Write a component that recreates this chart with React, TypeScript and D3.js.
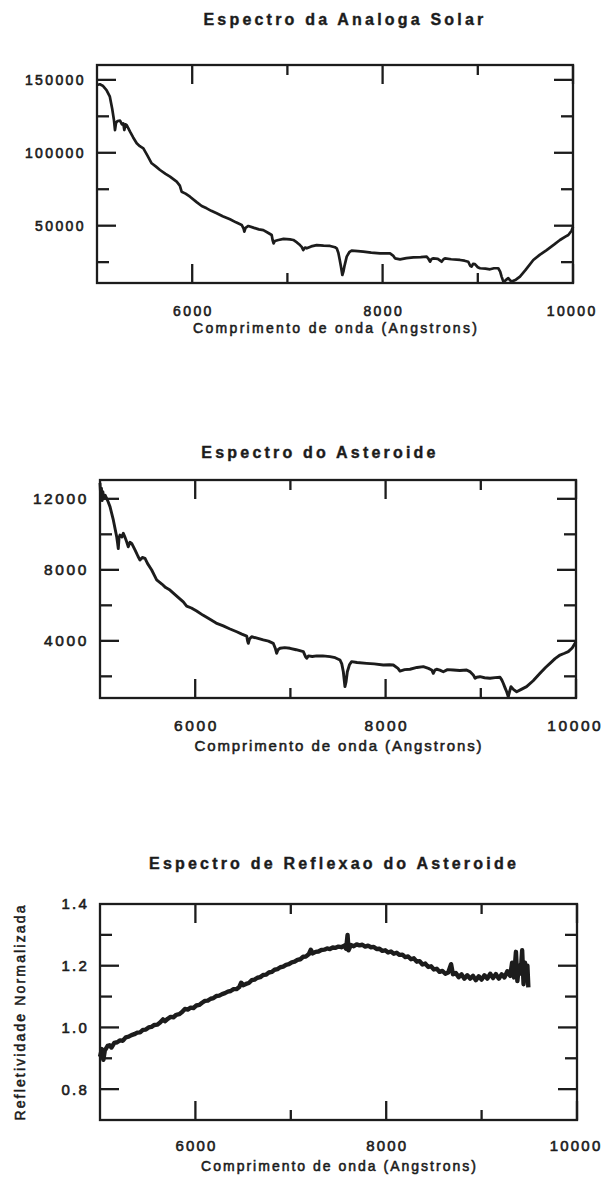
import React from 'react';
import * as d3 from 'd3';

// ---------- DATA ----------
const xMajorTicks = [6000, 8000, 10000];
const xMinorTicks = [7000, 9000];
const xTickLabels = ['6000', '8000', '10000'];
const xAxisTitle = 'Comprimento de onda (Angstrons)';

const solarTitle = 'Espectro da Analoga Solar';
const solarYMajor = [50000, 100000, 150000];
const solarYMinor = [25000, 75000, 125000];
const solarYLabels = ['50000', '100000', '150000'];
const solarWave = [5000,5030,5060,5100,5135,5160,5178,5189,5200,5215,5242,5262,5276,5287,5300,5312,5347,5380,5417,5450,5487,5530,5574,5620,5662,5720,5767,5837,5870,5889,5930,5977,6050,6100,6152,6200,6257,6320,6397,6460,6520,6540,6548,6560,6590,6650,6700,6747,6800,6835,6845,6855,6868,6905,6960,7027,7062,7100,7132,7150,7167,7185,7203,7250,7308,7380,7448,7500,7518,7535,7550,7563,7577,7588,7598,7623,7650,7675,7740,7797,7880,7973,8078,8110,8130,8183,8250,8323,8400,8463,8480,8498,8515,8533,8580,8620,8640,8655,8720,8813,8860,8900,8920,8935,8950,8970,9000,9023,9080,9128,9170,9215,9235,9250,9262,9275,9290,9320,9340,9356,9400,9443,9500,9583,9650,9723,9800,9863,9920,9951,9985,10000];
const solarFlux = [146500,147000,146000,143000,138500,130000,122500,115600,120500,121800,122000,119500,120200,115600,119500,119000,114500,110500,106500,104500,103000,98000,92800,90500,88200,85500,83600,80200,77500,73300,72000,69900,66000,63500,61900,60200,58500,56500,54400,52300,50500,48000,45900,48500,49800,48500,47500,47000,45000,43600,40000,37900,39500,40200,41000,40600,40200,38500,36700,35500,33300,35000,34500,35800,36700,36300,36100,35200,34500,31500,26500,21900,16200,18500,21900,28800,31800,32900,32500,32200,31500,31000,31000,29500,27600,26900,27800,28300,28500,28800,27500,25300,27200,27600,27200,25300,27000,27600,27000,26500,26000,25300,22500,21900,23800,23600,21500,20800,20500,20100,20800,20800,18500,15100,12800,10900,12500,14000,12500,11700,13000,15100,19500,26500,30000,33300,37000,40200,42500,43600,46500,49300];

const asteroidTitle = 'Espectro do Asteroide';
const asteroidYMajor = [4000, 8000, 12000];
const asteroidYMinor = [2000, 6000, 10000];
const asteroidYLabels = ['4000', '8000', '12000'];
const asteroidWave = [5000,5008,5015,5022,5030,5040,5055,5080,5105,5140,5175,5185,5192,5200,5210,5230,5245,5265,5280,5297,5315,5333,5370,5400,5420,5445,5473,5500,5543,5570,5595,5650,5690,5735,5800,5875,5910,5960,6015,6080,6155,6220,6295,6360,6436,6490,6541,6550,6558,6570,6593,6650,6715,6770,6820,6840,6856,6870,6891,6940,6996,7060,7136,7160,7171,7190,7230,7276,7340,7416,7470,7521,7540,7556,7573,7585,7598,7620,7643,7700,7801,7880,7976,8040,8081,8130,8151,8200,8256,8330,8396,8450,8484,8501,8518,8536,8570,8606,8650,8711,8780,8851,8890,8921,8940,8957,8991,9040,9096,9150,9202,9220,9236,9255,9272,9289,9300,9317,9345,9377,9420,9481,9550,9622,9680,9727,9780,9832,9880,9919,9960,9990,10000];
const asteroidFlux = [12900,12100,12600,11900,12400,12000,12200,11900,11560,10810,9870,9500,9200,9800,9960,9850,10060,9800,9580,9300,9550,9490,9100,8750,8550,8700,8650,8350,7990,7700,7430,7200,7000,6860,6550,6200,5960,5850,5680,5450,5210,5000,4840,4680,4510,4380,4270,4000,3860,4100,4230,4150,4050,3980,3860,3600,3300,3500,3580,3620,3580,3500,3390,3100,3020,3150,3120,3150,3150,3110,3050,2920,2700,2260,1420,1700,2260,2650,2830,2780,2730,2700,2640,2650,2640,2450,2300,2380,2400,2500,2550,2450,2360,2170,2350,2400,2350,2260,2380,2360,2330,2360,2250,2080,1890,1950,1980,1920,1890,1930,1950,1800,1610,1350,1130,850,1100,1420,1250,1130,1250,1420,1750,2170,2500,2730,3000,3200,3300,3390,3600,3860,3950];

const reflTitle = 'Espectro de Reflexao do Asteroide';
const reflYTitle = 'Refletividade Normalizada';
const reflYMajor = [0.8, 1.0, 1.2];
const reflYMinor = [0.9, 1.1, 1.3];
const reflYLabels = ['0.8', '1.0', '1.2', '1.4'];
const reflYLabelValues = [0.8, 1.0, 1.2, 1.4];
const reflWave = [5000,5020,5035,5050,5080,5100,5120,5150,5180,5210,5240,5270,5300,5330,5360,5390,5420,5450,5480,5510,5540,5570,5600,5630,5660,5680,5710,5740,5770,5800,5830,5860,5890,5920,5950,5980,6010,6040,6070,6100,6130,6160,6190,6220,6250,6280,6310,6340,6370,6400,6430,6460,6480,6500,6530,6560,6590,6620,6650,6680,6710,6740,6770,6800,6830,6860,6890,6920,6950,6980,7010,7040,7070,7100,7130,7160,7190,7210,7230,7260,7290,7320,7350,7380,7410,7440,7470,7500,7530,7560,7580,7595,7605,7630,7660,7690,7720,7750,7780,7810,7840,7870,7900,7930,7960,7990,8020,8050,8080,8110,8140,8170,8200,8230,8260,8290,8320,8350,8380,8410,8440,8470,8500,8530,8560,8590,8620,8650,8680,8700,8730,8760,8790,8820,8850,8880,8910,8940,8970,9000,9030,9060,9090,9120,9150,9180,9210,9240,9270,9300,9320,9340,9360,9375,9390,9410,9425,9440,9455,9470,9480,9490];
const reflValue = [0.905,0.93,0.895,0.925,0.94,0.942,0.935,0.95,0.952,0.958,0.957,0.968,0.97,0.975,0.978,0.983,0.984,0.992,0.993,1.0,1.002,1.008,1.009,1.016,1.026,1.02,1.028,1.034,1.033,1.041,1.043,1.05,1.06,1.058,1.064,1.063,1.071,1.073,1.08,1.086,1.087,1.093,1.095,1.102,1.103,1.108,1.111,1.116,1.118,1.124,1.124,1.131,1.145,1.137,1.141,1.144,1.153,1.155,1.161,1.163,1.17,1.171,1.178,1.18,1.187,1.189,1.195,1.197,1.203,1.205,1.211,1.213,1.219,1.221,1.229,1.23,1.238,1.252,1.24,1.245,1.246,1.251,1.252,1.256,1.254,1.259,1.258,1.262,1.26,1.265,1.255,1.3,1.25,1.267,1.263,1.269,1.266,1.268,1.262,1.265,1.26,1.261,1.254,1.255,1.248,1.25,1.243,1.246,1.239,1.242,1.235,1.236,1.228,1.23,1.221,1.224,1.213,1.215,1.204,1.207,1.196,1.198,1.188,1.19,1.18,1.183,1.174,1.178,1.205,1.172,1.176,1.163,1.172,1.158,1.169,1.158,1.167,1.153,1.166,1.155,1.169,1.158,1.174,1.16,1.173,1.158,1.172,1.162,1.182,1.167,1.21,1.162,1.245,1.15,1.2,1.175,1.25,1.14,1.21,1.165,1.2,1.13];

// ---------- LAYOUT ----------
const INK = '#1c1c1c';
const FONT = 'Liberation Sans, Arial, Helvetica, sans-serif';

type PanelProps = {
  left: number; right: number; top: number; bottom: number;
  yDomain: [number, number];
  wave: number[]; values: number[];
  yMajor: number[]; yMinor: number[];
  yLabelValues: number[]; yLabels: string[];
  title: string; titleX: number; titleY: number;
  tickFont: number; tickLs: number;
  yLabelX: number; xLabelY: number;
  axisFont: number; axisLs: number; axisTitleY: number;
  lineWidth: number;
  yTitle?: string; yTitleX?: number;
};

function Panel(p: PanelProps) {
  const x = d3.scaleLinear().domain([5000, 10000]).range([p.left, p.right]);
  const y = d3.scaleLinear().domain(p.yDomain).range([p.bottom, p.top]);
  const pts: [number, number][] = p.wave.map((w, i) => [w, p.values[i]]);
  const line = d3.line<[number, number]>().x(d => x(d[0])).y(d => y(d[1]));
  const major = 19;
  const minorY = 12;
  const minorX = 10;
  const cx = (p.left + p.right) / 2;
  return (
    <g>
      <text x={p.titleX} y={p.titleY} textAnchor="middle" fontFamily={FONT} fontWeight="bold"
        fontSize={16} letterSpacing={3.2} fill={INK} stroke={INK} strokeWidth={0.4}>{p.title}</text>
      <path d={line(pts) || ''} fill="none" stroke={INK} strokeWidth={p.lineWidth} strokeLinejoin="round" />
      <rect x={p.left} y={p.top} width={p.right - p.left} height={p.bottom - p.top}
        fill="none" stroke={INK} strokeWidth={2.3} />
      {xMajorTicks.map(t => (
        <g key={'xM' + t}>
          <line x1={x(t)} x2={x(t)} y1={p.bottom} y2={p.bottom - major} stroke={INK} strokeWidth={2.3} />
          <line x1={x(t)} x2={x(t)} y1={p.top} y2={p.top + major} stroke={INK} strokeWidth={2.3} />
        </g>
      ))}
      {xMinorTicks.map(t => (
        <g key={'xm' + t}>
          <line x1={x(t)} x2={x(t)} y1={p.bottom} y2={p.bottom - minorX} stroke={INK} strokeWidth={2.3} />
          <line x1={x(t)} x2={x(t)} y1={p.top} y2={p.top + minorX} stroke={INK} strokeWidth={2.3} />
        </g>
      ))}
      {p.yMajor.map(t => (
        <g key={'yM' + t}>
          <line x1={p.left} x2={p.left + major} y1={y(t)} y2={y(t)} stroke={INK} strokeWidth={2.3} />
          <line x1={p.right} x2={p.right - major} y1={y(t)} y2={y(t)} stroke={INK} strokeWidth={2.3} />
        </g>
      ))}
      {p.yMinor.map(t => (
        <g key={'ym' + t}>
          <line x1={p.left} x2={p.left + minorY} y1={y(t)} y2={y(t)} stroke={INK} strokeWidth={2.3} />
          <line x1={p.right} x2={p.right - minorY} y1={y(t)} y2={y(t)} stroke={INK} strokeWidth={2.3} />
        </g>
      ))}
      {p.yLabelValues.map((v, i) => (
        <text key={'yl' + i} x={p.yLabelX} y={y(v) + p.tickFont * 0.36} textAnchor="end"
          fontFamily={FONT} fontSize={p.tickFont} letterSpacing={p.tickLs} fill={INK}
          stroke={INK} strokeWidth={0.6}>{p.yLabels[i]}</text>
      ))}
      {xMajorTicks.map((t, i) => (
        <text key={'xl' + t} x={x(t) + p.tickLs / 2 - (i === 2 ? 2 : 0)} y={p.xLabelY} textAnchor="middle"
          fontFamily={FONT} fontSize={p.tickFont} letterSpacing={p.tickLs} fill={INK}
          stroke={INK} strokeWidth={0.6}>{xTickLabels[i]}</text>
      ))}
      <text x={cx + p.axisLs / 2} y={p.axisTitleY} textAnchor="middle" fontFamily={FONT}
        fontSize={p.axisFont} letterSpacing={p.axisLs} fill={INK} stroke={INK} strokeWidth={0.55}>{xAxisTitle}</text>
      {p.yTitle ? (
        <text transform={`translate(${p.yTitleX},${(p.top + p.bottom) / 2}) rotate(-90)`} textAnchor="middle"
          fontFamily={FONT} fontSize={14} letterSpacing={2.15} fill={INK} stroke={INK} strokeWidth={0.55}>{p.yTitle}</text>
      ) : null}
    </g>
  );
}

export default function App() {
  return (
    <svg width={606} height={1177} style={{ position: 'absolute', left: 0, top: 0, background: '#fff' }}>
      <rect x={0} y={0} width={606} height={1177} fill="#fff" />
      <Panel left={97} right={573} top={65} bottom={283} yDomain={[10700, 160200]}
        wave={solarWave} values={solarFlux}
        yMajor={solarYMajor} yMinor={solarYMinor}
        yLabelValues={solarYMajor} yLabels={solarYLabels}
        title={solarTitle} titleX={345} titleY={24.5}
        tickFont={14} tickLs={2.4} yLabelX={86} xLabelY={316}
        axisFont={14} axisLs={2.3} axisTitleY={333} lineWidth={2.7} />
      <Panel left={100} right={576} top={480} bottom={698} yDomain={[780, 13060]}
        wave={asteroidWave} values={asteroidFlux}
        yMajor={asteroidYMajor} yMinor={asteroidYMinor}
        yLabelValues={asteroidYMajor} yLabels={asteroidYLabels}
        title={asteroidTitle} titleX={320} titleY={458}
        tickFont={15.5} tickLs={2.6} yLabelX={89} xLabelY={731}
        axisFont={15} axisLs={1.9} axisTitleY={751} lineWidth={2.9} />
      <Panel left={100} right={577} top={904} bottom={1120} yDomain={[0.7, 1.4]}
        wave={reflWave} values={reflValue}
        yMajor={reflYMajor} yMinor={reflYMinor}
        yLabelValues={reflYLabelValues} yLabels={reflYLabels}
        title={reflTitle} titleX={334} titleY={869}
        tickFont={15} tickLs={2.2} yLabelX={89} xLabelY={1151}
        axisFont={14} axisLs={2.0} axisTitleY={1171} lineWidth={4.4}
        yTitle={reflYTitle} yTitleX={25} />
    </svg>
  );
}
